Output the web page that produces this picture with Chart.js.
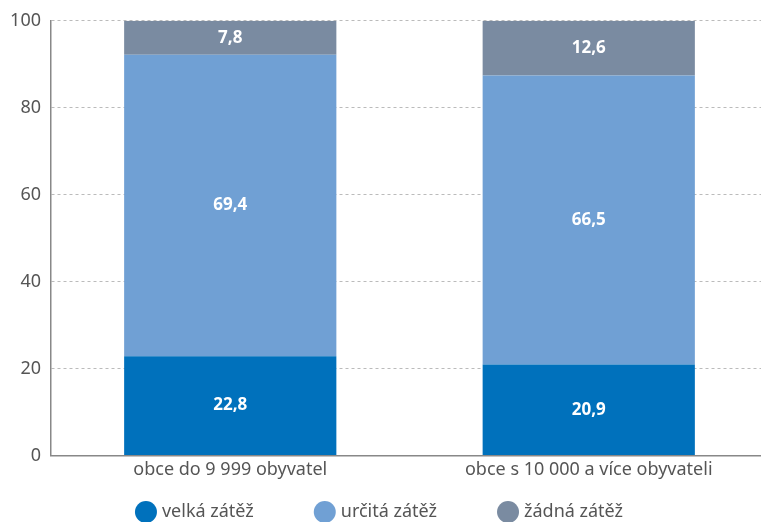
<!DOCTYPE html>
<html><head><meta charset="utf-8">
<script src="https://cdn.jsdelivr.net/npm/chart.js@4/dist/chart.umd.min.js"></script>
<style>html,body{margin:0;padding:0;background:#fff;overflow:hidden}#wrap{width:761px;height:522px;position:relative;overflow:hidden}</style>
</head><body><div id="wrap"><canvas id="c" width="768" height="522"></canvas></div>
<script>
const categories = ["obce do 9 999 obyvatel", "obce s 10 000 a více obyvateli"];
const seriesNames = ["velká zátěž", "určitá zátěž", "žádná zátěž"];
const velka = [22.8, 20.9];
const urcita = [69.4, 66.5];
const zadna = [7.8, 12.6];
const colors = ["#0071bc", "#70a0d4", "#7a8ba1"];
const FONT = "'Noto Sans', sans-serif";

const labelPlugin = {
  id: 'barLabels',
  afterDatasetsDraw(chart) {
    const ctx = chart.ctx;
    ctx.save();
    ctx.font = "bold 17px " + FONT;
    ctx.fillStyle = "#fff";
    ctx.textAlign = "center";
    ctx.textBaseline = "middle";
    chart.data.datasets.forEach((ds, i) => {
      chart.getDatasetMeta(i).data.forEach((bar, j) => {
        const p = bar.getProps(['x','y','base'], true);
        ctx.fillText(ds.data[j].toFixed(1).replace('.', ','), p.x, (p.y + p.base) / 2);
      });
    });
    ctx.restore();
  }
};

const legendPlugin = {
  id: 'customLegend',
  afterDraw(chart) {
    const ctx = chart.ctx;
    ctx.save();
    ctx.font = "18px " + FONT;
    const r = 11, gap = 5, itemGap = 60;
    const widths = chart.data.datasets.map(d => 2 * r + gap + ctx.measureText(d.label).width);
    const total = widths.reduce((a, b) => a + b, 0) + itemGap * (widths.length - 1);
    let x = 379 - total / 2;
    const y = 512;
    chart.data.datasets.forEach((d, i) => {
      ctx.fillStyle = d.backgroundColor;
      ctx.beginPath(); ctx.arc(x + r, y, r, 0, Math.PI * 2); ctx.fill();
      ctx.fillStyle = "#555";
      ctx.textBaseline = "middle"; ctx.textAlign = "left";
      ctx.fillText(d.label, x + 2 * r + gap, y);
      x += widths[i] + itemGap;
    });
    ctx.restore();
  }
};

new Chart(document.getElementById('c'), {
  type: 'bar',
  data: {
    labels: categories,
    datasets: [
      { label: seriesNames[0], data: velka, backgroundColor: colors[0] },
      { label: seriesNames[1], data: urcita, backgroundColor: colors[1] },
      { label: seriesNames[2], data: zadna, backgroundColor: colors[2] }
    ]
  },
  options: {
    responsive: false,
    animation: false,
    layout: { padding: { top: 15, right: 0, bottom: 37, left: 0 } },
    plugins: { legend: { display: false }, tooltip: { enabled: false } },
    datasets: { bar: { barPercentage: 1, categoryPercentage: 0.592 } },
    scales: {
      x: {
        stacked: true,
        grid: { display: true, color: 'rgba(0,0,0,0)', drawTicks: false },
        border: { display: true, color: '#888', width: 1.5 },
        ticks: { color: '#555', font: { family: FONT, size: 18 }, padding: 4 }
      },
      y: {
        stacked: true, min: 0, max: 100,
        afterFit(s) { s.width = 51; },
        grid: { color: '#bbb', drawTicks: false, lineWidth: 1 },
        border: { display: true, color: '#888', width: 1.5, dash: [3, 3] },
        ticks: { stepSize: 20, color: '#555', font: { family: FONT, size: 18 }, padding: 10 }
      }
    }
  },
  plugins: [labelPlugin, legendPlugin]
});
</script></body></html>
